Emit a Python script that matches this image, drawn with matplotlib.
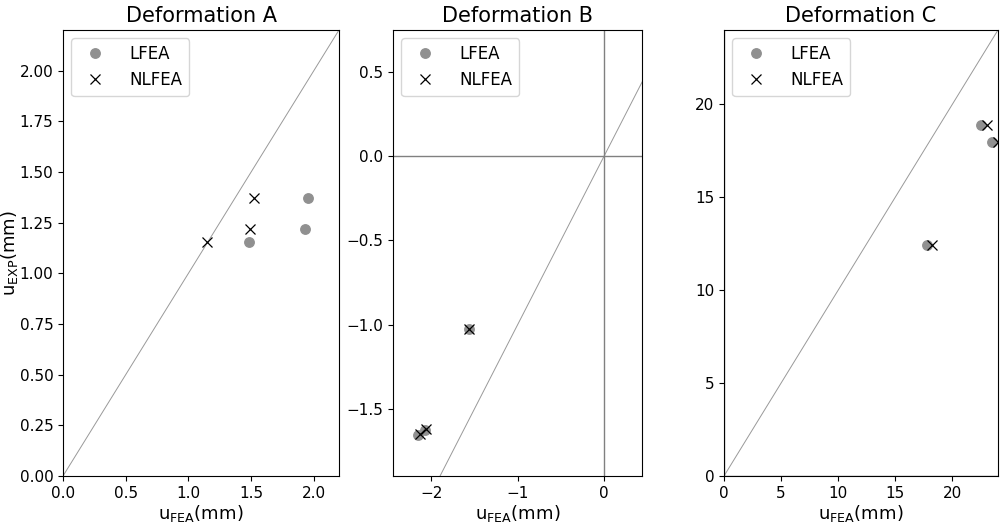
import matplotlib
matplotlib.use("Agg")
import matplotlib.pyplot as plt

titles = ["Deformation A", "Deformation B", "Deformation C"]

# Deformation A
a_lfea_x = [1.95, 1.93, 1.48]
a_lfea_y = [1.37, 1.22, 1.155]
a_nlfea_x = [1.52, 1.49, 1.15]
a_nlfea_y = [1.37, 1.22, 1.155]

# Deformation B
b_lfea_x = [-1.57, -2.07, -2.16]
b_lfea_y = [-1.025, -1.625, -1.655]
b_nlfea_x = [-1.56, -2.06, -2.13]
b_nlfea_y = [-1.025, -1.62, -1.65]

# Deformation C
c_lfea_x = [22.5, 23.5, 17.8]
c_lfea_y = [18.9, 17.95, 12.45]
c_nlfea_x = [23.0, 24.0, 18.2]
c_nlfea_y = [18.9, 17.95, 12.45]

limits = [((0, 2.2), (0, 2.2)),
          ((-2.445, 0.44), (-1.9, 0.75)),
          ((0, 24), (0, 24))]
xticks = [[0.0, 0.5, 1.0, 1.5, 2.0], [-2, -1, 0], [0, 5, 10, 15, 20]]
yticks = [[0.0, 0.25, 0.5, 0.75, 1.0, 1.25, 1.5, 1.75, 2.0],
          [-1.5, -1.0, -0.5, 0.0, 0.5],
          [0, 5, 10, 15, 20]]
xfmt = ["{:.1f}", "{:.0f}", "{:.0f}"]
yfmt = ["{:.2f}", "{:.1f}", "{:.0f}"]

data = [(a_lfea_x, a_lfea_y, a_nlfea_x, a_nlfea_y),
        (b_lfea_x, b_lfea_y, b_nlfea_x, b_nlfea_y),
        (c_lfea_x, c_lfea_y, c_nlfea_x, c_nlfea_y)]


def fmt(pattern, v):
    return pattern.format(v).replace("-", "\u2212")


W, H = 1002.0, 525.0
boxes = [(63, 339), (393, 642), (724, 998)]
bottom, top = 476, 30

fig = plt.figure(figsize=(10.02, 5.25), dpi=100)
axes = []
for (l, r) in boxes:
    axes.append(fig.add_axes([l / W, 1 - bottom / H, (r - l) / W, (bottom - top) / H]))

for i, ax in enumerate(axes):
    lx, ly, nx, ny = data[i]
    (x0, x1), (y0, y1) = limits[i]
    lo = min(x0, y0)
    hi = max(x1, y1)
    ax.plot([lo, hi], [lo, hi], color="#999999", lw=0.7, zorder=1)
    if i > 0:
        ax.axhline(0, color="#808080", lw=1.0, zorder=1)
        ax.axvline(0, color="#808080", lw=1.0, zorder=1)
    ax.plot(lx, ly, "o", color="#909090", ms=6.8, ls="none", label="LFEA", zorder=2)
    ax.plot(nx, ny, "x", color="black", ms=7.2, mew=0.9, ls="none", label="NLFEA", zorder=3)
    ax.set_xlim(x0, x1)
    ax.set_ylim(y0, y1)
    ax.set_xticks(xticks[i])
    ax.set_xticklabels([fmt(xfmt[i], v) for v in xticks[i]])
    ax.set_yticks(yticks[i])
    ax.set_yticklabels([fmt(yfmt[i], v) for v in yticks[i]])
    ax.tick_params(labelsize=11)
    ax.set_title(titles[i], fontsize=15)
    ax.set_xlabel(r"u$_{\mathrm{FEA}}$(mm)", fontsize=13, labelpad=2)
    ax.legend(loc="upper left", fontsize=12, handletextpad=1.1)

axes[0].set_ylabel(r"u$_{\mathrm{EXP}}$(mm)", fontsize=13)
axes[0].yaxis.set_label_coords(-0.155, 0.5)

fig.savefig("out.png", dpi=100)
